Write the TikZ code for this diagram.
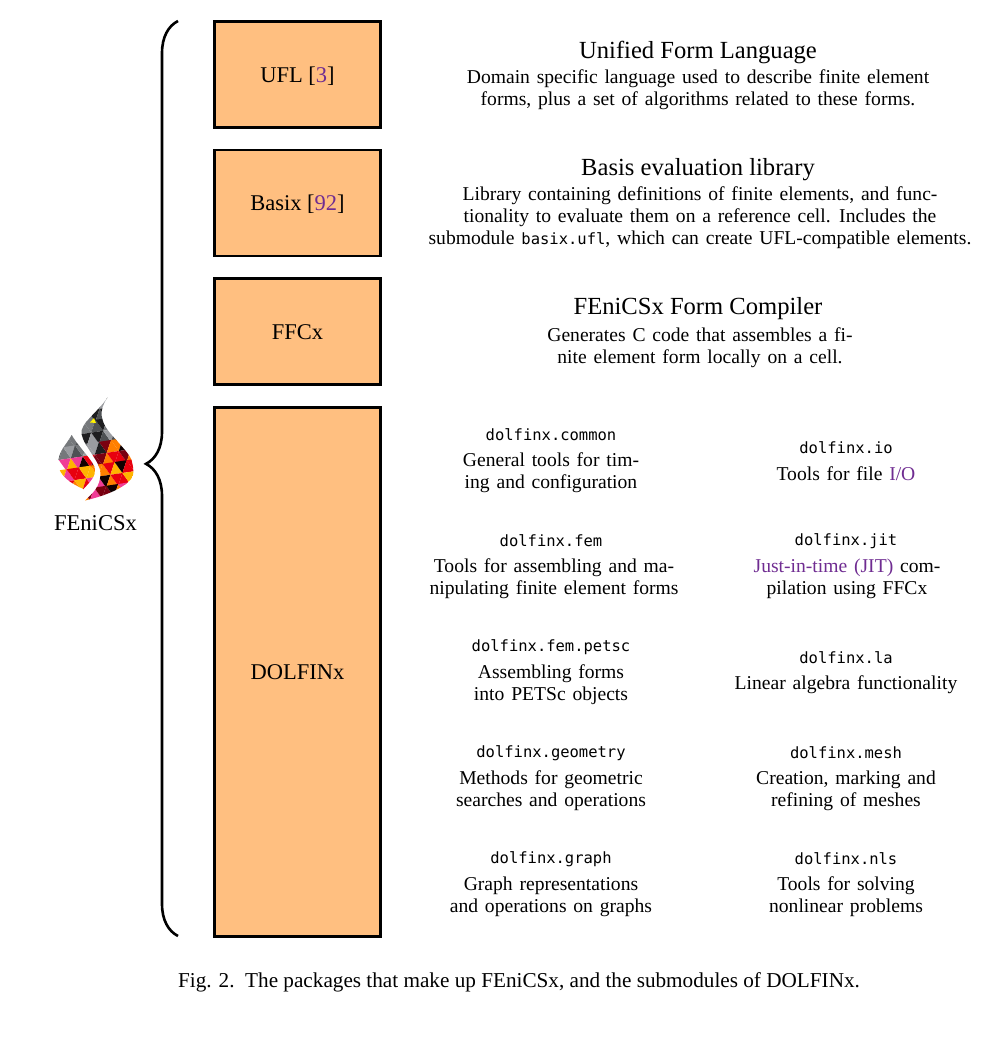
\documentclass[tikz,border=0pt]{standalone}
\usepackage{fontspec}
\setmainfont{Liberation Serif}
\setmonofont{DejaVu Sans Mono}
\usetikzlibrary{decorations.pathreplacing}
\definecolor{pkgfill}{HTML}{FFBF80}
\definecolor{linkcol}{HTML}{6F2C91}
\definecolor{gA}{HTML}{4E5154}
\definecolor{gB}{HTML}{75787B}
\definecolor{gC}{HTML}{9A9CA0}
\definecolor{gD}{HTML}{1E1E20}
\definecolor{rA}{HTML}{E8000F}
\definecolor{rB}{HTML}{FF7F00}
\definecolor{rC}{HTML}{F03C96}
\definecolor{rD}{HTML}{7A0010}
\definecolor{rE}{HTML}{FFB400}
\definecolor{rF}{HTML}{100000}
\protected\def\widespace{\spaceskip=6.8pt\relax}
\tikzset{
  pkgbox/.style={draw,fill=pkgfill,line width=2.6pt,minimum width=166pt,text height=18pt,text depth=3pt,font=\fontsize{22.5}{26}\selectfont},
  pkgtitle/.style={font=\fontsize{24.6}{28}\selectfont},
  pkgtext/.style={align=center,font=\fontsize{19.6}{22}\selectfont,execute at begin node=\widespace},
  modname/.style={font=\fontsize{15.5}{20}\ttfamily},
}
\newcommand{\lnk}[1]{\textcolor{linkcol}{#1}}
\begin{document}
\begin{tikzpicture}[x=1pt,y=-1pt]
\useasboundingbox (0,0) rectangle (994,1049);
% packages
\node[pkgbox,minimum height=106pt] (ufl) at (297.5,74.5) {UFL [\lnk{3}]};
\node[pkgbox,minimum height=106pt] (basix) at (297.5,203) {Basix [\lnk{92}]};
\node[pkgbox,minimum height=106pt] (ffcx) at (297.5,331.5) {FFCx};
\node[pkgbox,minimum height=529pt] (dolfinx) at (297.5,672) {DOLFINx};
% brace
\coordinate (bracebot) at (178,936);
\coordinate (bracetop) at (178,21);
\draw[line width=2.6pt,decorate,decoration={brace,amplitude=32pt,aspect=0.516}] (bracebot) -- (bracetop);
% logo
\begin{scope}
\clip (107.5,397.5) .. controls (103,404) and (101,410) .. (101.7,416) .. controls (103,427) and (112,435) .. (118,442) .. controls (124,449) and (131,456) .. (132,462) .. controls (134,470) and (134,476) .. (131,479) .. controls (124,488) and (105,496) .. (85,500.5) .. controls (93,493) and (100,487) .. (100.5,474) .. controls (101,462) and (84,447) .. (81.5,434) .. controls (79.5,424) and (98,412) .. (107.5,397.5) -- cycle
(71.7,435) .. controls (66,445) and (58,452) .. (58.2,463.5) .. controls (58.5,476) and (72,484) .. (83.5,489) .. controls (90,482) and (96,476) .. (95,469) .. controls (93,460) and (80,449) .. (71.7,435) -- cycle;
\pgfmathsetseed{41}
\foreach \i in {0,...,8}{
  \foreach \j in {0,...,10}{
    \pgfmathsetmacro{\xa}{48+\i*12+\j*1.8-mod(\j,2)*6}
    \pgfmathsetmacro{\ya}{394-\i*1.8+\j*11}
    \pgfmathsetmacro{\ca}{int(random(0,7))}
    \pgfmathsetmacro{\cb}{int(random(0,7))}
    \pgfmathsetmacro{\lim}{\ya+5+0.3*(\xa-84)}
    \ifdim\lim pt<450pt
      \def\pal{{"gA","gB","gC","gD","gA","gB","gA","gC"}}
    \else
      \def\pal{{"rA","rA","rB","rD","rF","rA","rC","rE"}}
    \fi
    \pgfmathsetmacro{\fa}{\pal[\ca]}
    \pgfmathsetmacro{\fb}{\pal[\cb]}
    \fill[\fa] (\xa,\ya) -- ++(12,-1.8) -- ++(-4.2,12.8) -- cycle;
    \fill[\fb] (\xa+12,\ya-1.8) -- ++(-4.2,12.8) -- ++(12,-1.8) -- cycle;
  }
}
\fill[yellow] (90,422.5) -- (94,418) -- (96,423) -- cycle;
\end{scope}
\node[font=\fontsize{22.6}{26}\selectfont] (fenicsx) at (95.5,523.5) {FEniCSx};
% package descriptions
\node[pkgtitle] (ufltitle) at (698,52) {Unified Form Language};
\node[pkgtext] (ufltext) at (698,89.5) {Domain specific language used to describe finite element\\forms, plus a set of algorithms related to these forms.};
\node[pkgtitle] (basixtitle) at (698,170) {Basis evaluation library};
\node[pkgtext] (basixtext) at (700,217.5) {Library containing definitions of finite elements, and func-\\tionality to evaluate them on a reference cell. Includes the\\submodule {\fontsize{15.5}{20}\ttfamily basix.ufl}, which can create UFL-compatible elements.};
\node[pkgtitle] (ffcxtitle) at (698,309) {FEniCSx Form Compiler};
\node[pkgtext] (ffcxtext) at (700,347.5) {Generates C code that assembles a fi-\\nite element form locally on a cell.};
% submodules, left column
\node[modname] (common) at (551,435) {dolfinx.common};
\node[pkgtext] (commontext) at (551,473) {General tools for tim-\\ing and configuration};
\node[modname] (fem) at (551,541) {dolfinx.fem};
\node[pkgtext] (femtext) at (554,579) {Tools for assembling and ma-\\nipulating finite element forms};
\node[modname] (petsc) at (551,647) {dolfinx.fem.petsc};
\node[pkgtext] (petsctext) at (551,685) {Assembling forms\\into PETSc objects};
\node[modname] (geometry) at (551,753) {dolfinx.geometry};
\node[pkgtext] (geometrytext) at (551,791) {Methods for geometric\\searches and operations};
\node[modname] (graph) at (551,859) {dolfinx.graph};
\node[pkgtext] (graphtext) at (551,897) {Graph representations\\and operations on graphs};
% submodules, right column
\node[modname] (io) at (846,448) {dolfinx.io};
\node[pkgtext] (iotext) at (846,473.5) {Tools for file \lnk{I/O}};
\node[modname] (jit) at (846,541) {dolfinx.jit};
\node[pkgtext] (jittext) at (847,579) {\lnk{Just-in-time (JIT)} com-\\pilation using FFCx};
\node[modname] (la) at (846,658) {dolfinx.la};
\node[pkgtext] (latext) at (846,684.5) {Linear algebra functionality};
\node[modname] (mesh) at (846,753) {dolfinx.mesh};
\node[pkgtext] (meshtext) at (846,791) {Creation, marking and\\refining of meshes};
\node[modname] (nls) at (846,859) {dolfinx.nls};
\node[pkgtext] (nlstext) at (846,897) {Tools for solving\\nonlinear problems};
% caption
\node[font=\fontsize{21.2}{25}\selectfont] (caption) at (519,982) {Fig. 2.\ \ The packages that make up FEniCSx, and the submodules of DOLFINx.};
\end{tikzpicture}
\end{document}
